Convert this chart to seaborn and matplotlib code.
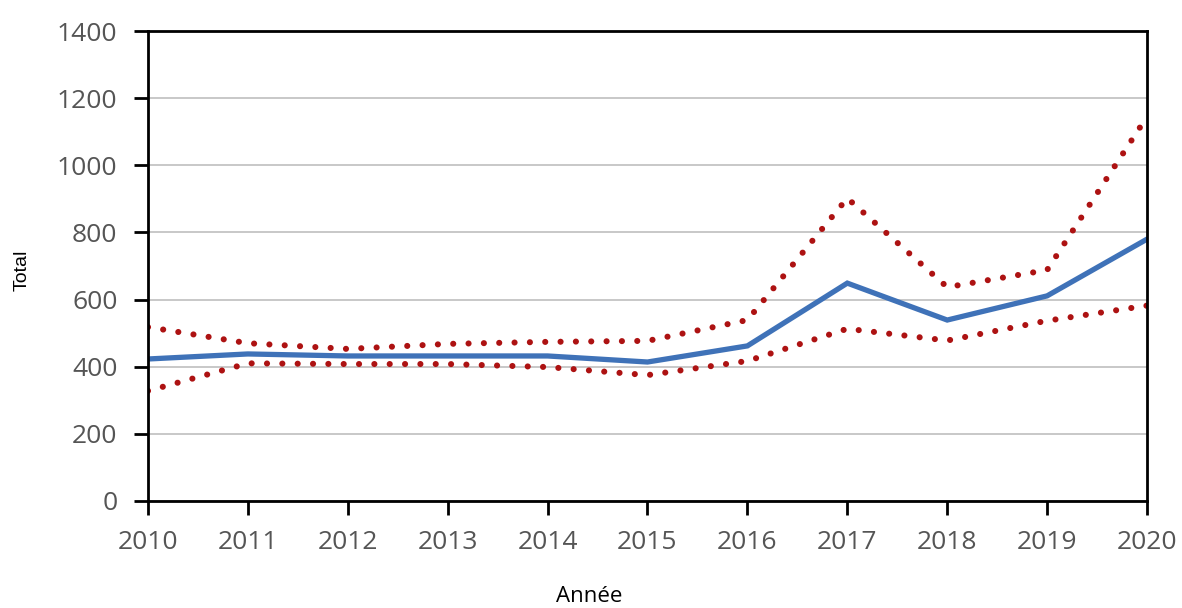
import matplotlib
matplotlib.use("Agg")
import matplotlib.pyplot as plt
import seaborn as sns
import pandas as pd

# Annual totals with lower and upper bounds
years = [2010, 2011, 2012, 2013, 2014, 2015, 2016, 2017, 2018, 2019, 2020]
total = [423, 438, 432, 432, 432, 414, 462, 649, 539, 611, 780]
upper = [518, 470, 453, 468, 474, 477, 539, 902, 637, 688, 1145]
lower = [328, 410, 408, 408, 399, 375, 417, 513, 478, 537, 582]

y_ticks = [0, 200, 400, 600, 800, 1000, 1200, 1400]

df = pd.DataFrame({"Année": years, "Total": total, "Haut": upper, "Bas": lower})

sns.set_style("white")
plt.rcParams["font.family"] = ["Open Sans", "DejaVu Sans"]

fig = plt.figure(figsize=(11.82, 6.08), dpi=100)
ax = fig.add_axes([0.1252, 0.176, 0.8452, 0.773])

dot_style = dict(color="#ad1212", linewidth=4.4, linestyle=(0, (0.01, 2.5)),
                 dash_capstyle="round", solid_capstyle="round")
sns.lineplot(data=df, x="Année", y="Haut", ax=ax, **dot_style)
sns.lineplot(data=df, x="Année", y="Bas", ax=ax, **dot_style)
sns.lineplot(data=df, x="Année", y="Total", ax=ax, color="#3f72b8",
             linewidth=3.8, solid_joinstyle="miter")

ax.set_xlim(years[0], years[-1])
ax.set_ylim(y_ticks[0], y_ticks[-1])
ax.set_xticks(years)
ax.set_yticks(y_ticks)
ax.yaxis.grid(True, color="#c8c8c8", linewidth=1.4)
ax.set_axisbelow(True)

for side in ["left", "bottom", "top", "right"]:
    ax.spines[side].set_visible(True)
    ax.spines[side].set_color("black")
    ax.spines[side].set_linewidth(2)

ax.tick_params(axis="both", direction="out", length=10, width=2, color="black",
               labelsize=19, labelcolor="#555555", bottom=True, left=True)
ax.tick_params(axis="y", pad=12)
ax.tick_params(axis="x", pad=11)

ax.set_xlabel("Année", fontsize=16, color="black")
ax.xaxis.set_label_coords(0.442, -0.181)
ax.set_ylabel("Total", fontsize=14, color="black",
              family=["Liberation Sans", "DejaVu Sans"])
ax.yaxis.set_label_coords(-0.117, 0.49)

fig.savefig("out.png", dpi=100)
